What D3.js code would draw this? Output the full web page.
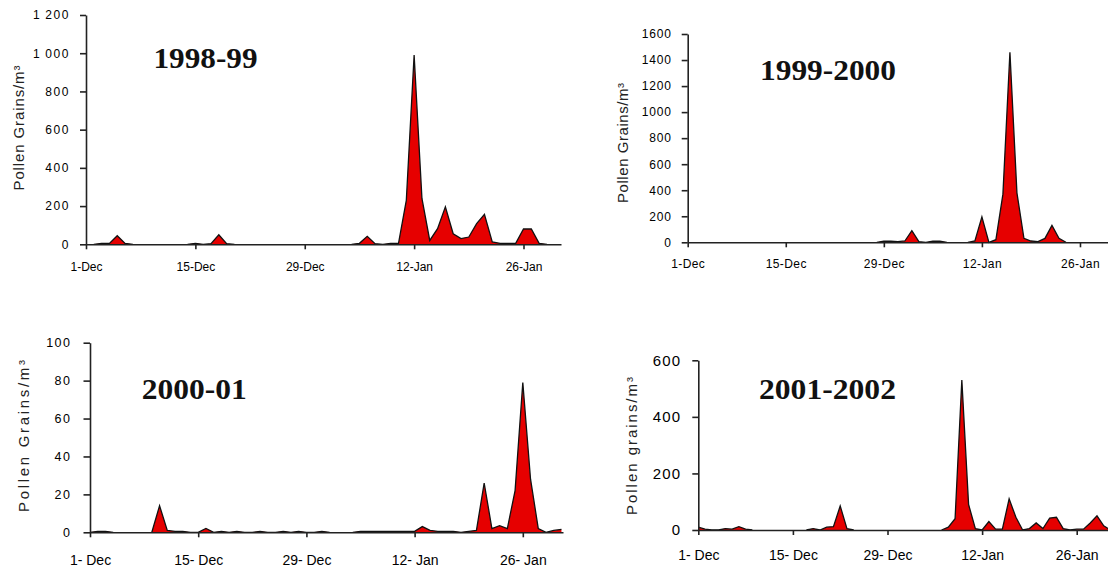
<!DOCTYPE html>
<html><head><meta charset="utf-8">
<script src="https://cdn.jsdelivr.net/npm/d3@7"></script>
<style>
body{margin:0;background:#fff;}
svg{display:block;}
.tick text{font-family:"Liberation Sans",Arial,sans-serif;fill:#000;}
.domain,.tick line{stroke:#222;}
</style></head>
<body>
<svg id="c" width="1108" height="571"></svg>
<script>
// ---- data: daily pollen counts, 1 Dec (index 0) .. 31 Jan (index 61) ----
const season1998 = [0,0,5,5,45,5,0,0,0,0, 0,0,0,0,5,0,3,50,3,0, 0,0,0,0,0,0,0,0,0,0,
  0,0,0,0,0,5,42,3,0,5, 5,230,990,240,20,82,196,55,30,38, 108,157,12,5,5,5,80,80,5,0, 0,0];
const season1999 = [0,0,0,0,0,0,0,0,0,0, 0,0,0,0,0,0,0,0,0,0, 0,0,0,0,0,0,0,0,8,8,
  5,10,90,5,0,8,8,0,0,0, 0,10,195,0,20,370,1460,380,30,10, 5,30,130,30,0,0,0,0,0,0, 0,0];
const season2000 = [0,0.5,0.5,0,0,0,0,0,0,14, 1,0.5,0.5,0,0,2,0,0.5,0,0.5, 0,0,0.5,0,0,0.5,0,0.5,0,0,
  0.5,0,0,0,0,0.5,0.5,0.5,0.5,0.5, 0.5,0.5,0.5,3,1,0.5,0.5,0.5,0,0.5, 1,26,2,3.5,2,22,79,28,2,0, 1,1.5];
const season2001 = [10,3,0,0,5,3,12,3,0,0, 0,0,0,0,0,0,0,5,0,10, 12,85,5,0,0,0,0,0,0,0,
  0,0,0,0,0,0,0,10,40,530, 90,5,0,30,3,3,110,45,0,5, 25,5,42,45,5,0,3,3,25,50, 15,0];

const titles = ["1998-99","1999-2000","2000-01","2001-2002"];
const yLabels = ["Pollen Grains/m\u00B3","Pollen Grains/m\u00B3","Pollen Grains/m\u00B3","Pollen grains/m\u00B3"];
const xTickDays = [0,14,28,42,56];
const xTickLabelsA = ["1-Dec","15-Dec","29-Dec","12-Jan","26-Jan"];
const xTickLabelsB = ["1- Dec","15- Dec","29- Dec","12- Jan","26- Jan"];
const xTickLabelsC = ["1- Dec","15- Dec","29- Dec","12-Jan","26-Jan"];
const yTicks1998 = [0,200,400,600,800,1000,1200];
const yTickLabels1998 = ["0","200","400","600","800","1\u2009000","1\u2009200"];
const yTicks1999 = [0,200,400,600,800,1000,1200,1400,1600];
const yTickLabels1999 = ["0","200","400","600","800","1000","1200","1400","1600"];
const yTicks2000 = [0,20,40,60,80,100];
const yTickLabels2000 = ["0","20","40","60","80","100"];
const yTicks2001 = [0,200,400,600];
const yTickLabels2001 = ["0","200","400","600"];

// ---- layout ----
const panels = [
  {data:season1998, yTicks:yTicks1998, yTL:yTickLabels1998, xLabels:xTickLabelsA, title:titles[0], ylab:yLabels[0],
   x0:86, x1:561, dEnd:60.8, yb:244.3, yt:15, labOff:18.5, fs:12, xls:0, yfs:12, ls:1.6, tk:6, tp:10,
   tx:153.5, ty:68.3, tw:104, lx:19, ly:128, ll:125},
  {data:season1999, yTicks:yTicks1999, yTL:yTickLabels1999, xLabels:xTickLabelsA, title:titles[1], ylab:yLabels[1],
   x0:687.7, x1:1115, dEnd:61, yb:242.3, yt:34, labOff:17.5, fs:12, xls:0.4, yfs:12, ls:0.8, tk:6, tp:10,
   tx:760, ty:80, tw:136, lx:622.5, ly:143, ll:120},
  {data:season2000, yTicks:yTicks2000, yTL:yTickLabels2000, xLabels:xTickLabelsB, title:titles[2], ylab:yLabels[2],
   x0:90, x1:563, dEnd:61.2, yb:532.3, yt:342.7, labOff:23, fs:14, xls:0, yfs:12.5, ls:1.5, tk:6.5, tp:12,
   tx:141.7, ty:399.3, tw:105, lx:24, ly:436, ll:152},
  {data:season2001, yTicks:yTicks2001, yTL:yTickLabels2001, xLabels:xTickLabelsC, title:titles[3], ylab:yLabels[3],
   x0:698.3, x1:1110.5, dEnd:61, yb:530, yt:360.3, labOff:20.5, fs:14, xls:0, yfs:15, ls:1.2, tk:6, tp:11,
   tx:759, ty:399.3, tw:137, lx:632, ly:446, ll:138}
];

const svg = d3.select("#c");

panels.forEach(p => {
  const g = svg.append("g");
  const yMax = p.yTicks[p.yTicks.length-1];
  const x = d3.scaleLinear().domain([0, p.dEnd]).range([p.x0, p.x1]);
  const y = d3.scaleLinear().domain([0, yMax]).range([p.yb, p.yt]);
  const pts = p.data.map((v,i)=>({i, v}));

  const area = d3.area().x(d=>x(d.i)).y0(y(0)).y1(d=>y(d.v));
  g.append("path").datum(pts).attr("d", area).attr("fill", "#e60000");

  const defined = d => d.v > 0 || (p.data[d.i-1] > 0) || (p.data[d.i+1] > 0);
  const line = d3.line().defined(defined).x(d=>x(d.i)).y(d=>y(d.v));
  g.append("path").datum(pts).attr("d", line).attr("fill","none")
    .attr("stroke","#111").attr("stroke-width",1.3).attr("stroke-linejoin","miter");

  const xa = d3.axisBottom(x).tickValues(xTickDays).tickFormat((d,i)=>p.xLabels[i])
    .tickSize(5).tickSizeOuter(0).tickPadding(p.labOff-5);
  const gx = g.append("g").attr("transform",`translate(0,${p.yb})`).call(xa);
  gx.selectAll("text").style("font-size", p.fs+"px").style("letter-spacing", p.xls+"px");
  gx.selectAll(".domain,.tick line").attr("stroke-width",1.6);

  const ya = d3.axisLeft(y).tickValues(p.yTicks).tickFormat((d,i)=>p.yTL[i])
    .tickSize(p.tk).tickSizeOuter(0).tickPadding(p.tp);
  const gy = g.append("g").attr("transform",`translate(${p.x0},0)`).call(ya);
  gy.selectAll("text").style("font-size", p.yfs+"px").style("letter-spacing", p.ls+"px");
  gy.selectAll(".domain,.tick line").attr("stroke-width",1.6);

  g.append("text").attr("x",p.tx).attr("y",p.ty).text(p.title)
    .attr("font-family","'Liberation Serif','Times New Roman',serif").attr("font-weight","bold")
    .attr("font-size",29).attr("textLength",p.tw).attr("lengthAdjust","spacingAndGlyphs").attr("fill","#111");

  g.append("text").attr("transform",`translate(${p.lx},${p.ly}) rotate(-90)`)
    .attr("text-anchor","middle").attr("dy","0.35em").text(p.ylab)
    .attr("font-family","'Liberation Sans',Arial,sans-serif").attr("font-size",15)
    .attr("textLength",p.ll).attr("lengthAdjust","spacing").attr("fill","#222");
});
</script>
</body></html>
